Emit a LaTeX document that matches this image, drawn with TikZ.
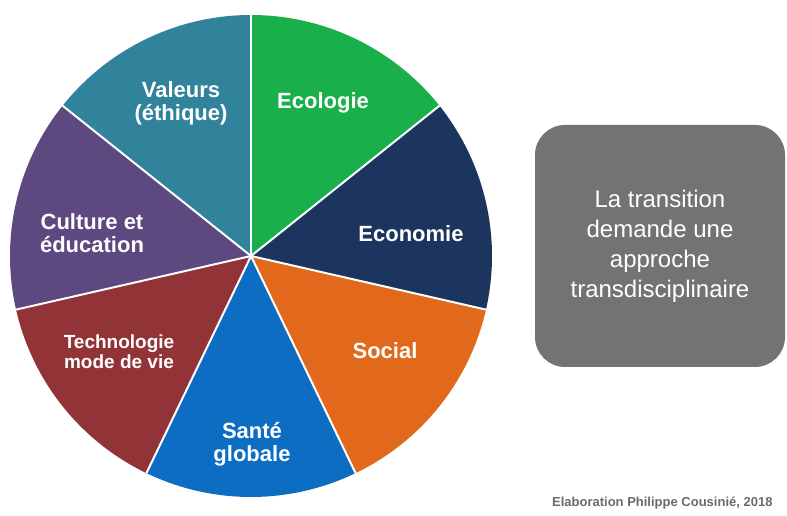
\documentclass[tikz,border=0pt]{standalone}
\usepackage{fontspec}
\setmainfont{Liberation Sans}
\definecolor{ecol}{HTML}{19B04B}
\definecolor{econ}{HTML}{1C355E}
\definecolor{soc}{HTML}{E2691C}
\definecolor{sante}{HTML}{0D6DC2}
\definecolor{techno}{HTML}{923437}
\definecolor{cult}{HTML}{5D4880}
\definecolor{valeur}{HTML}{31839B}
\definecolor{boxgray}{HTML}{737373}
\definecolor{footgray}{HTML}{6A6A6A}
\tikzset{
  lbl/.style={text=white, font=\bfseries\fontsize{22}{23}\selectfont, align=center},
  sep/.style={draw=white, line width=2pt},
}
\begin{document}
\begin{tikzpicture}[x=1pt,y=1pt]
\useasboundingbox (0,0) rectangle (787,516);
\coordinate (C) at (251,260);
\def\R{241}
\foreach \a/\b/\c in {90/38.571/ecol, 38.571/-12.857/econ, -12.857/-64.286/soc, -64.286/-115.714/sante, -115.714/-167.143/techno, -167.143/-218.571/cult, 141.429/90/valeur}{
  \fill[\c] (C) -- ++(\a:\R) arc[start angle=\a, end angle=\b, radius=\R] -- cycle;
}
\foreach \a in {90, 38.571, -12.857, -64.286, -115.714, -167.143, 141.429}{
  \draw[sep] (C) -- ++(\a:\R);
}
\node[lbl] (valeurs) at (181,413) {Valeurs\\(éthique)};
\node[lbl] (ecologie) at (323,413) {Ecologie};
\node[lbl] (economie) at (411,282) {Economie};
\node[lbl] (social) at (385,165) {Social};
\node[lbl] (sante) at (252,72) {Santé\\globale};
\node[lbl, font=\bfseries\fontsize{19}{20}\selectfont] (techno) at (119,164) {Technologie\\mode de vie};
\node[lbl] (culture) at (92,283) {Culture et\\éducation};
\fill[boxgray, rounded corners=30pt] (535,149) rectangle (785,391);
\node[text=white, font=\fontsize{24}{30}\selectfont, align=center] (transition) at (660,270) {La transition\\demande une\\approche\\transdisciplinaire};
\node[text=footgray, font=\bfseries\fontsize{13}{15}\selectfont, anchor=east] (credit) at (776,13) {Elaboration Philippe Cousinié, 2018};
\end{tikzpicture}
\end{document}
